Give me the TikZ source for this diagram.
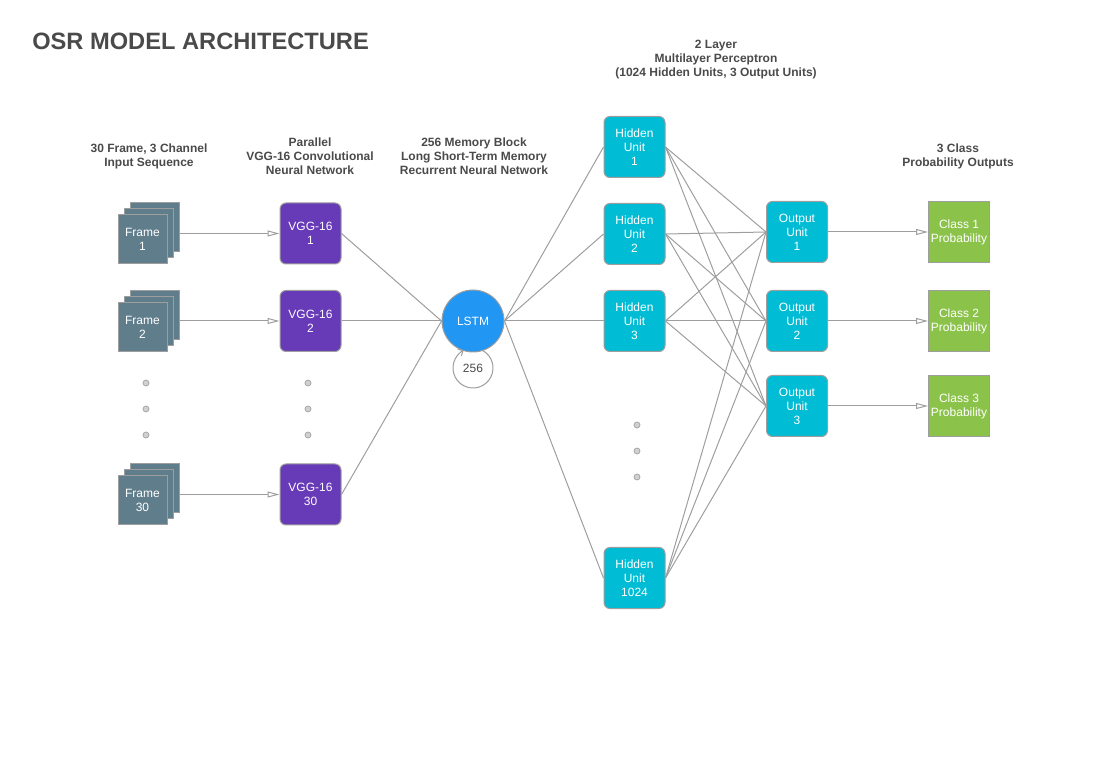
\documentclass[tikz,border=0pt]{standalone}
\usepackage{fontspec}
\setmainfont{Liberation Sans}
\usetikzlibrary{arrows.meta}
\definecolor{headgray}{HTML}{4A4A4A}
\definecolor{linegray}{HTML}{9E9E9E}
\definecolor{framecol}{HTML}{607D8B}
\definecolor{vggcol}{HTML}{673AB7}
\definecolor{lstmcol}{HTML}{2196F3}
\definecolor{mlpcol}{HTML}{00BCD4}
\definecolor{classcol}{HTML}{8BC34A}
\definecolor{dotcol}{HTML}{D0D0D0}
\begin{document}
\begin{tikzpicture}[x=0.75pt,y=-0.75pt,
    header/.style={text=headgray,font=\bfseries\fontsize{9}{10.5}\selectfont,align=center},
    unit/.style={draw=linegray,line width=0.75pt,text=white,font=\fontsize{9}{10.5}\selectfont,align=center,inner sep=0pt},
    framebox/.style={unit,fill=framecol,minimum size=36.75pt},
    vggbox/.style={unit,fill=vggcol,minimum size=45.75pt,rounded corners=4.5pt},
    mlpbox/.style={unit,fill=mlpcol,minimum size=45.75pt,rounded corners=4.5pt},
    classbox/.style={unit,fill=classcol,minimum size=45.75pt},
    wire/.style={draw=linegray,line width=0.75pt},
    arr/.style={wire,-{Triangle[open,length=9pt,width=4.5pt]}},
    dot/.style={circle,draw=linegray,fill=dotcol,line width=0.5pt,minimum size=4.5pt,inner sep=0pt}]
    \useasboundingbox (0,0) rectangle (1118,780);
    \node[anchor=base west,inner sep=0pt,text=headgray,font=\bfseries\fontsize{17.75}{20}\selectfont] (title) at (32,50) {OSR MODEL ARCHITECTURE};
    % column headers
    \node[header] (hdin) at (149,156) {30 Frame, 3 Channel\\Input Sequence};
    \node[header] (hdvgg) at (310,156) {Parallel\\VGG-16 Convolutional\\Neural Network};
    \node[header] (hdlstm) at (474,156) {256 Memory Block\\Long Short-Term Memory\\Recurrent Neural Network};
    \node[header] (hdmlp) at (716,60) {2 Layer\\Multilayer Perceptron\\(1024 Hidden Units, 3 Output Units)};
    \node[header] (hdout) at (958,156) {3 Class\\Probability Outputs};
    % frames and vgg
    \foreach \n/\y in {1/233.5,2/321,30/494.5}{
      \node[framebox] (fb\n) at (154.5,\y-6) {};
      \node[framebox] (fm\n) at (148.5,\y) {};
      \node[framebox] (ff\n) at (142.5,\y+6) {Frame\\\n};
      \node[vggbox] (v\n) at (310.5,\y) {VGG-16\\\n};
      \draw[arr] (fb\n.east |- v\n.west) -- (v\n.west);
    }
    \foreach \y [count=\i] in {383,409,435}{
      \node[dot] (da\i) at (146,\y) {};
      \node[dot] (db\i) at (308,\y) {};
    }
    \foreach \y [count=\i] in {425,451,477}
    \node[dot] (dc\i) at (637,\y) {};
    % lstm and its loop
    \coordinate (lp) at (473,368);
    \draw[wire,-{Straight Barb[length=3pt,width=6pt]}] (lp) ++(-62:20) arc[start angle=-62,end angle=242,radius=20];
    \node[circle,inner sep=0pt,minimum size=30pt,text=headgray,font=\fontsize{9}{10.5}\selectfont] (loop) at (lp) {256};
    \node[unit,circle,fill=lstmcol,minimum size=46.5pt] (lstm) at (473,321) {LSTM};
    \foreach \n in {1,2,30}
    \draw[wire] (v\n.east) -- (lstm.west);
    % mlp
    \foreach \n/\y in {1/147,2/234,3/321,1024/578}{
      \node[mlpbox] (h\n) at (634.5,\y) {Hidden\\Unit\\\n};
      \draw[wire] (lstm.east) -- (h\n.west);
    }
    \foreach \n/\y in {1/232,2/321,3/406}{
      \node[mlpbox] (o\n) at (797,\y) {Output\\Unit\\\n};
      \node[classbox] (c\n) at (959,\y) {Class \n\\Probability};
      \draw[arr] (o\n.east) -- (c\n.west);
    }
    \foreach \h in {1,2,3,1024}
    \foreach \o in {1,2,3}
    \draw[wire] (h\h.east) -- (o\o.west);
  \end{tikzpicture}
\end{document}
